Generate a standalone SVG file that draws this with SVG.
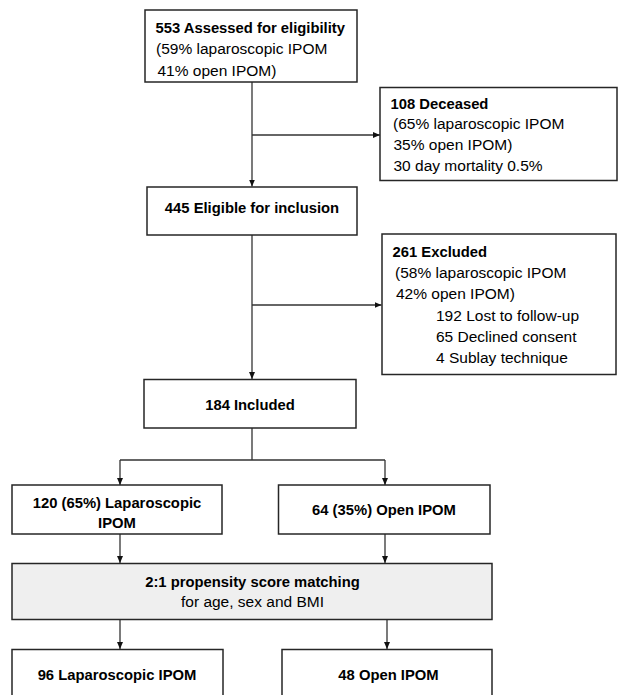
<svg xmlns="http://www.w3.org/2000/svg" width="619" height="695" viewBox="0 0 619 695">
<style>
.box{fill:#ffffff;stroke:#262626;stroke-width:1.5}
.gray{fill:#efefef}
.b{font-family:"Liberation Sans",Arial,sans-serif;font-weight:bold;font-size:14.8px;fill:#000}
.r{font-family:"Liberation Sans",Arial,sans-serif;font-size:15.5px;fill:#000}
.c{text-anchor:middle}
.conn{fill:none;stroke:#333;stroke-width:1.3}
</style>
<defs>
<marker id="ah" markerUnits="userSpaceOnUse" markerWidth="7" markerHeight="6" refX="7" refY="3" orient="auto">
<path d="M0,0 L7,3 L0,6 z" fill="#111"/>
</marker>
</defs>
<rect width="619" height="695" fill="#ffffff"/>
<g id="connectors">
<path class="conn" d="M252,82 V186.5" marker-end="url(#ah)"/>
<path class="conn" d="M252,135 H380" marker-end="url(#ah)"/>
<path class="conn" d="M252,235 V379" marker-end="url(#ah)"/>
<path class="conn" d="M252,305 H381.5" marker-end="url(#ah)"/>
<path class="conn" d="M252,428 V460 M120,460 H385"/>
<path class="conn" d="M120,460 V485" marker-end="url(#ah)"/>
<path class="conn" d="M385,460 V485" marker-end="url(#ah)"/>
<path class="conn" d="M120,534 V563" marker-end="url(#ah)"/>
<path class="conn" d="M385,534 V563" marker-end="url(#ah)"/>
<path class="conn" d="M120,619 V649" marker-end="url(#ah)"/>
<path class="conn" d="M387,619 V649" marker-end="url(#ah)"/>
</g>
<g id="assessed">
<rect class="box" x="145" y="10" width="212" height="72"/>
<text class="b" x="155.5" y="32.5">553 Assessed for eligibility</text>
<text class="r" x="156" y="54">(59% laparoscopic IPOM</text>
<text class="r" x="157.5" y="75.5">41% open IPOM)</text>
</g>
<g id="deceased">
<rect class="box" x="380" y="87.5" width="237" height="93"/>
<text class="b" x="390.5" y="108.5">108 Deceased</text>
<text class="r" x="393" y="129.3">(65% laparoscopic IPOM</text>
<text class="r" x="393.5" y="150">35% open IPOM)</text>
<text class="r" x="393.5" y="170.7">30 day mortality 0.5%</text>
</g>
<g id="eligible">
<rect class="box" x="147" y="187" width="210" height="48"/>
<text class="b c" x="252" y="213.3">445 Eligible for inclusion</text>
</g>
<g id="excluded">
<rect class="box" x="382" y="234" width="234" height="140.5"/>
<text class="b" x="392.5" y="257.3">261 Excluded</text>
<text class="r" x="395" y="278.3">(58% laparoscopic IPOM</text>
<text class="r" x="396" y="298.8">42% open IPOM)</text>
<text class="r" x="436" y="320.5">192 Lost to follow-up</text>
<text class="r" x="436" y="341.5">65 Declined consent</text>
<text class="r" x="436" y="362.5">4 Sublay technique</text>
</g>
<g id="included">
<rect class="box" x="144" y="379.5" width="212" height="48.5"/>
<text class="b c" x="250" y="410">184 Included</text>
</g>
<g id="lap120">
<rect class="box" x="12" y="485" width="210" height="49"/>
<text class="b c" x="117" y="508.3">120 (65%) Laparoscopic</text>
<text class="b c" x="117" y="527.7">IPOM</text>
</g>
<g id="open64">
<rect class="box" x="278.5" y="485" width="211.5" height="49"/>
<text class="b c" x="384" y="515">64 (35%) Open IPOM</text>
</g>
<g id="psm">
<rect class="box gray" x="12" y="563.5" width="480" height="56"/>
<text class="b c" x="252.5" y="586.7">2:1 propensity score matching</text>
<text class="r c" x="252.5" y="606.7">for age, sex and BMI</text>
</g>
<g id="lap96">
<rect class="box" x="12" y="649.5" width="211" height="60"/>
<text class="b c" x="117" y="680">96 Laparoscopic IPOM</text>
</g>
<g id="open48">
<rect class="box" x="282" y="649.5" width="210" height="60"/>
<text class="b c" x="388.5" y="680">48 Open IPOM</text>
</g>
</svg>
